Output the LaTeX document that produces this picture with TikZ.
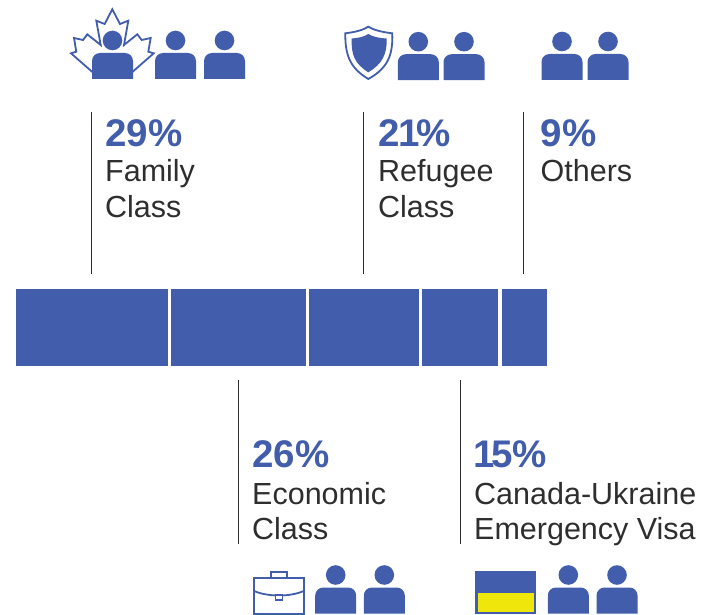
\documentclass[tikz,border=0pt]{standalone}
\usepackage{fontspec}
\setmainfont{Liberation Sans}
\definecolor{cblue}{HTML}{415DAB}
\definecolor{cyellow}{HTML}{EFE60C}
\definecolor{ctext}{HTML}{2E2E2E}
\newcommand{\narrowone}{\kern-1pt 1\kern-3.5pt}
\tikzset{
  seg/.style={fill=cblue,draw=none},
  leader/.style={draw=ctext,line width=0.9pt},
  pct/.style={anchor=base west,inner sep=0pt,text=cblue,font=\fontsize{38.5}{38.5}\selectfont\bfseries},
  lab/.style={anchor=base west,inner sep=0pt,text=ctext,font=\fontsize{30.5}{30.5}\selectfont},
  iconline/.style={draw=cblue,line width=1.8pt,line join=miter},
  person/.pic={
    \fill[cblue] (0,0) circle (9.8);
    \fill[cblue] (-20.5,38.5) -- (-20.5,20.5) .. controls (-20.5,16.1) and (-16.9,12.5) .. (-12.5,12.5) -- (12.5,12.5) .. controls (16.9,12.5) and (20.5,16.1) .. (20.5,20.5) -- (20.5,38.5) -- cycle;
  }
}
\begin{document}
\begin{tikzpicture}[x=1pt,y=-1pt]
\useasboundingbox (0,0) rectangle (704,615);
% bar
\fill[seg] (16,289) rectangle (168,366);
\fill[seg] (171,289) rectangle (306,366);
\fill[seg] (309,289) rectangle (419,366);
\fill[seg] (421.7,289) rectangle (498,366);
\fill[seg] (501.5,289) rectangle (547,366);
% leaders
\coordinate (a1) at (91.5,112); \coordinate (a2) at (91.5,274);
\coordinate (b1) at (363.8,112); \coordinate (b2) at (363.8,274);
\coordinate (c1) at (523.8,112); \coordinate (c2) at (523.8,274);
\coordinate (d1) at (238.5,380); \coordinate (d2) at (238.5,544);
\coordinate (e1) at (460.8,380); \coordinate (e2) at (460.8,544);
\draw[leader] (a1) -- (a2);
\draw[leader] (b1) -- (b2);
\draw[leader] (c1) -- (c2);
\draw[leader] (d1) -- (d2);
\draw[leader] (e1) -- (e2);
% labels
\node[pct] (t1) at (105,146.5) {29\%};
\node[lab] (t1a) at (105,182) {Family};
\node[lab] (t1b) at (105,217.5) {Class};
\node[pct] (t2) at (378,146.5) {2\narrowone\%};
\node[lab] (t2a) at (378,182) {Refugee};
\node[lab] (t2b) at (378,217.5) {Class};
\node[pct] (t3) at (540.5,146.5) {9\%};
\node[lab] (t3a) at (540.5,182) {Others};
\node[pct] (t4) at (252,467.5) {26\%};
\node[lab] (t4a) at (252,504) {Economic};
\node[lab] (t4b) at (252,539) {Class};
\node[pct] (t5) at (474,467.5) {\narrowone 5\%};
\node[lab] (t5a) at (474,504) {Canada-Ukraine};
\node[lab] (t5b) at (474,539) {Emergency Visa};
% maple leaf
\draw[iconline,fill=white] (112.3,9.3) -- (120,24) -- (128.3,20.7) -- (124,45) -- (137.3,34.3) -- (141.7,40) -- (150.7,38) -- (148.3,51.7) -- (153.7,53.3) -- (132.7,71.7)
 -- (92,71.7) -- (71,53.3) -- (76.3,51.7) -- (74,38) -- (83,40) -- (87.3,34.3) -- (100.7,45) -- (96.3,20.7) -- (104.7,24) -- cycle;
\pic at (112.5,40.5) {person};
\pic at (175.5,40.5) {person};
\pic at (224.5,40.5) {person};
% shield
\draw[cblue,line width=1.8pt,fill=white] (368.3,26.7) .. controls (374,30) and (381,32) .. (392.3,33.3) .. controls (393,55) and (388,68) .. (368.3,79) .. controls (350,68) and (345,55) .. (345.3,33.3) .. controls (356,32) and (363,30) .. (368.3,26.7) -- cycle;
\fill[cblue] (368.3,34) .. controls (373,37) and (379,38) .. (386.7,38.5) .. controls (387,55) and (382,64) .. (368.3,72.3) .. controls (355,64) and (351,55) .. (351.7,38.5) .. controls (358,38) and (364,37) .. (368.3,34) -- cycle;
\pic at (418.3,41.7) {person};
\pic at (464,41.7) {person};
% others
\pic at (562,41.5) {person};
\pic at (608,41.5) {person};
% briefcase
\draw[iconline] (254,578.3) rectangle (303.7,613.7);
\draw[iconline] (270.7,578.3) -- (270.7,572.3) -- (287,572.3) -- (287,578.3);
\draw[iconline] (254,591) .. controls (268,597) and (290,597) .. (303.7,591);
\draw[iconline,fill=white,line width=1.4pt] (275.5,595) rectangle (282.3,600);
\pic at (335.7,575) {person};
\pic at (384.3,575) {person};
% flag
\fill[cblue] (475.3,571) rectangle (536,614);
\fill[cyellow] (477.7,593.3) rectangle (534,612);
\pic at (568.3,575) {person};
\pic at (617,575) {person};
\end{tikzpicture}
\end{document}
